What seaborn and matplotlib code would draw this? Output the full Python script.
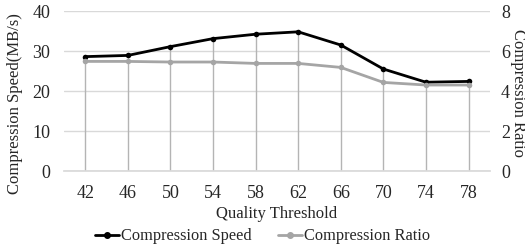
import numpy as np
import pandas as pd
import matplotlib
matplotlib.use("Agg")
import matplotlib.pyplot as plt
import seaborn as sns

# ── Data ─────────────────────────────────────────────────────────────────────
thresholds = [42, 46, 50, 54, 58, 62, 66, 70, 74, 78]
speed = [28.6, 28.9, 31.1, 33.1, 34.2, 34.8, 31.5, 25.5, 22.2, 22.4]
ratio = [5.48, 5.48, 5.45, 5.45, 5.38, 5.38, 5.18, 4.43, 4.30, 4.30]

df = pd.DataFrame({"threshold": [str(t) for t in thresholds],
                   "speed": speed, "ratio": ratio})
df["pos"] = np.arange(len(df))

# ── Style ────────────────────────────────────────────────────────────────────
sns.set_theme(style="white")
plt.rcParams["font.family"] = ["Liberation Serif", "DejaVu Serif"]
tick_fs = 13
lab_fs = 12
leg_fs = 11.8

grid_c = "#d9d9d9"
drop_c = "#b4b4b4"
speed_c = "black"
ratio_c = "#a5a5a5"
text_c = "#262626"

fig = plt.figure(figsize=(5.25, 2.45), dpi=100)
ax = fig.add_axes([0.122, 0.302, 0.811, 0.653])
ax2 = ax.twinx()

# drop lines from the upper point down to the axis (speed scale == ratio*5)
top = np.maximum(df["speed"], df["ratio"] * 5)
ax.vlines(df["pos"], 0, top, color=drop_c, linewidth=1, zorder=1)

sns.lineplot(data=df, x="pos", y="speed", ax=ax, color=speed_c, linewidth=2,
             marker="o", markersize=4, markeredgewidth=0, zorder=3)
sns.lineplot(data=df, x="pos", y="ratio", ax=ax2, color=ratio_c, linewidth=2,
             marker="o", markersize=4, markeredgewidth=0, zorder=2)

ax.set_ylim(0, 40)
ax2.set_ylim(0, 8)
ax.set_yticks(range(0, 41, 10))
ax2.set_yticks(range(0, 9, 2))
ax.set_xlim(-0.5, len(df) - 0.5)
ax.set_xticks(df["pos"])
ax.set_xticklabels(df["threshold"])

ax.yaxis.grid(True, color=grid_c, linewidth=1)
ax.set_axisbelow(True)
for a in (ax, ax2):
    for s in a.spines.values():
        s.set_visible(False)
    a.tick_params(length=0, labelsize=tick_fs, colors=text_c)
ax.spines["bottom"].set_visible(True)
ax.spines["bottom"].set_color(grid_c)
ax.tick_params(axis="x", pad=10)
ax.tick_params(axis="y", pad=10)
ax2.tick_params(axis="y", pad=8)

ax.set_xlabel("Quality Threshold", fontsize=lab_fs, labelpad=3, color=text_c)
ax.set_ylabel("Compression Speed(MB/s)", fontsize=lab_fs, color=text_c,
              ha="center", va="center")
ax2.set_ylabel("Compression Ratio", fontsize=lab_fs, rotation=270,
               color=text_c, ha="center", va="center")
ax.yaxis.set_label_coords(-0.115, 0.42)
ax2.yaxis.set_label_coords(1.066, 0.49)

h1 = plt.Line2D([], [], color=speed_c, linewidth=2, marker="o", markersize=4)
h2 = plt.Line2D([], [], color=ratio_c, linewidth=2, marker="o", markersize=4)
fig.legend([h1, h2], ["Compression Speed", "Compression Ratio"], loc="center",
           bbox_to_anchor=(0.5, 0.035), ncol=2, frameon=False, fontsize=leg_fs,
           handlelength=1.5, handletextpad=0.1, columnspacing=1.6,
           borderaxespad=0, borderpad=0)

plt.savefig("out.png", dpi=100)
plt.close()
